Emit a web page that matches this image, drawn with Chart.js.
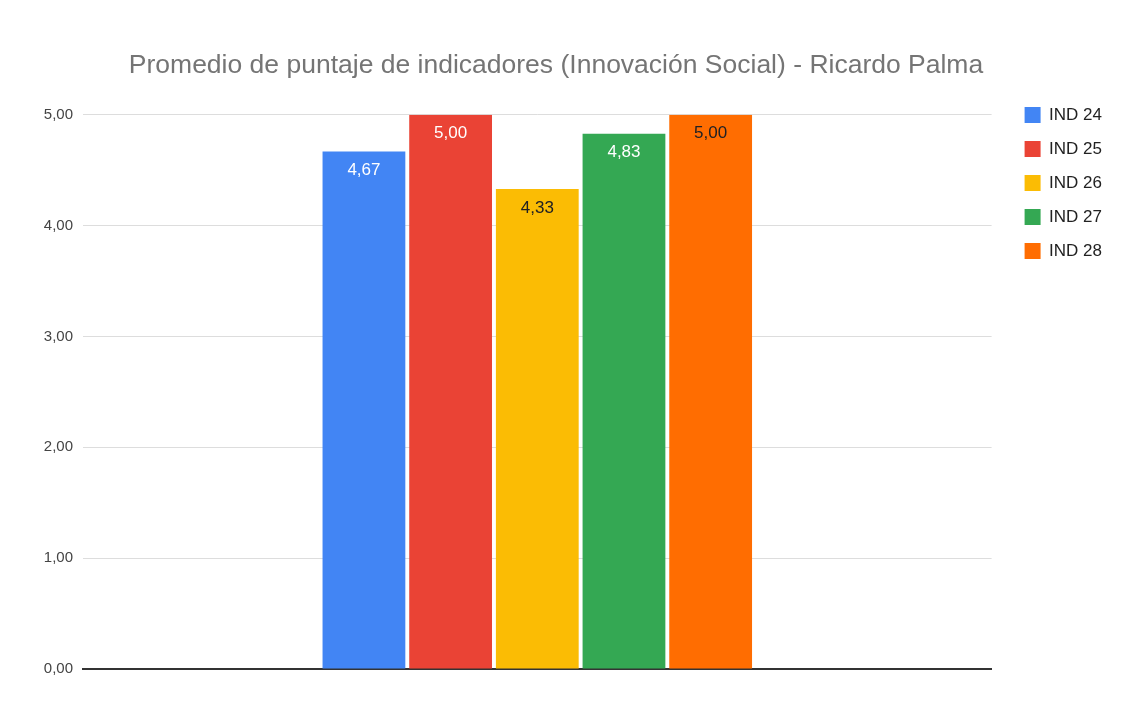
<!DOCTYPE html>
<html>
<head>
<meta charset="utf-8">
<script src="https://cdn.jsdelivr.net/npm/chart.js@4/dist/chart.umd.min.js"></script>
<style>
  html, body { margin: 0; padding: 0; background: #ffffff; }
  #wrap { width: 1126px; height: 709px; position: relative; }
</style>
</head>
<body>
<div id="wrap"><canvas id="myChart"></canvas></div>
<script>
const chartTitle = 'Promedio de puntaje de indicadores (Innovación Social) - Ricardo Palma';
const categories = [''];
const seriesNames = ['IND 24', 'IND 25', 'IND 26', 'IND 27', 'IND 28'];
const seriesValues = [4.67, 5.00, 4.33, 4.83, 5.00];
const seriesColors = ['#4285f4', '#ea4335', '#fbbc04', '#34a853', '#ff6d01'];
const labelColors = ['#ffffff', '#ffffff', '#202124', '#ffffff', '#202124'];
const yTicks = [0, 1, 2, 3, 4, 5];

function fmt(v) {
    return v.toFixed(2).replace('.', ',');
}

// value labels drawn inside the top of each bar
const barLabels = {
    id: 'barLabels',
    afterDatasetsDraw(chart) {
        let ctx = chart.ctx;
        ctx.save();
        ctx.font = '17px "Liberation Sans", Arial, sans-serif';
        ctx.textAlign = 'center';
        ctx.textBaseline = 'middle';
        chart.data.datasets.forEach((ds, i) => {
            let meta = chart.getDatasetMeta(i);
            meta.data.forEach((bar, j) => {
                ctx.fillStyle = labelColors[i];
                ctx.fillText(fmt(ds.data[j]), bar.x, bar.y + 19);
            });
        });
        ctx.restore();
    }
};

let datasets = [];
for (var i = 0; i < seriesNames.length; i++) {
    datasets.push({
        label: seriesNames[i],
        data: [seriesValues[i]],
        backgroundColor: seriesColors[i],
        borderWidth: 0,
        categoryPercentage: 0.477,
        barPercentage: 0.955
    });
}

let ctx = document.getElementById('myChart').getContext('2d');
new Chart(ctx, {
    type: 'bar',
    data: {
        labels: categories,
        datasets: datasets
    },
    plugins: [barLabels],
    options: {
        responsive: true,
        maintainAspectRatio: false,
        animation: false,
        layout: { padding: { right: 14 } },
        plugins: {
            title: {
                display: true,
                text: chartTitle,
                color: '#757575',
                font: { family: '"Liberation Sans", Arial, sans-serif', size: 26.5, weight: 'normal' },
                padding: { top: 50, bottom: 33 }
            },
            legend: {
                position: 'right',
                align: 'start',
                title: {
                    display: true,
                    text: ' ',
                    font: { size: 12 },
                    padding: { top: 75, bottom: 0 }
                },
                labels: {
                    boxWidth: 16,
                    boxHeight: 16,
                    padding: 17,
                    color: '#222222',
                    font: { family: '"Liberation Sans", Arial, sans-serif', size: 17 }
                }
            },
            tooltip: { enabled: false }
        },
        scales: {
            x: {
                grid: { display: false },
                ticks: { display: false },
                border: { display: true, color: '#333333', width: 2 },
                afterFit: (s) => { s.height = 40; }
            },
            y: {
                min: 0,
                max: 5,
                afterBuildTicks: (s) => { s.ticks = yTicks.map((v) => ({ value: v })); },
                grid: { color: '#dddddd', drawTicks: false },
                border: { display: false },
                ticks: {
                    padding: 10,
                    color: '#444444',
                    font: { family: '"Liberation Sans", Arial, sans-serif', size: 15 },
                    callback: (v) => fmt(v)
                },
                afterFit: (s) => { s.width = 83; }
            },
            y2: {
                position: 'right',
                grid: { display: false },
                ticks: { display: false },
                border: { display: false },
                afterFit: (s) => { s.width = 16; }
            }
        }
    }
});
</script>
</body>
</html>
